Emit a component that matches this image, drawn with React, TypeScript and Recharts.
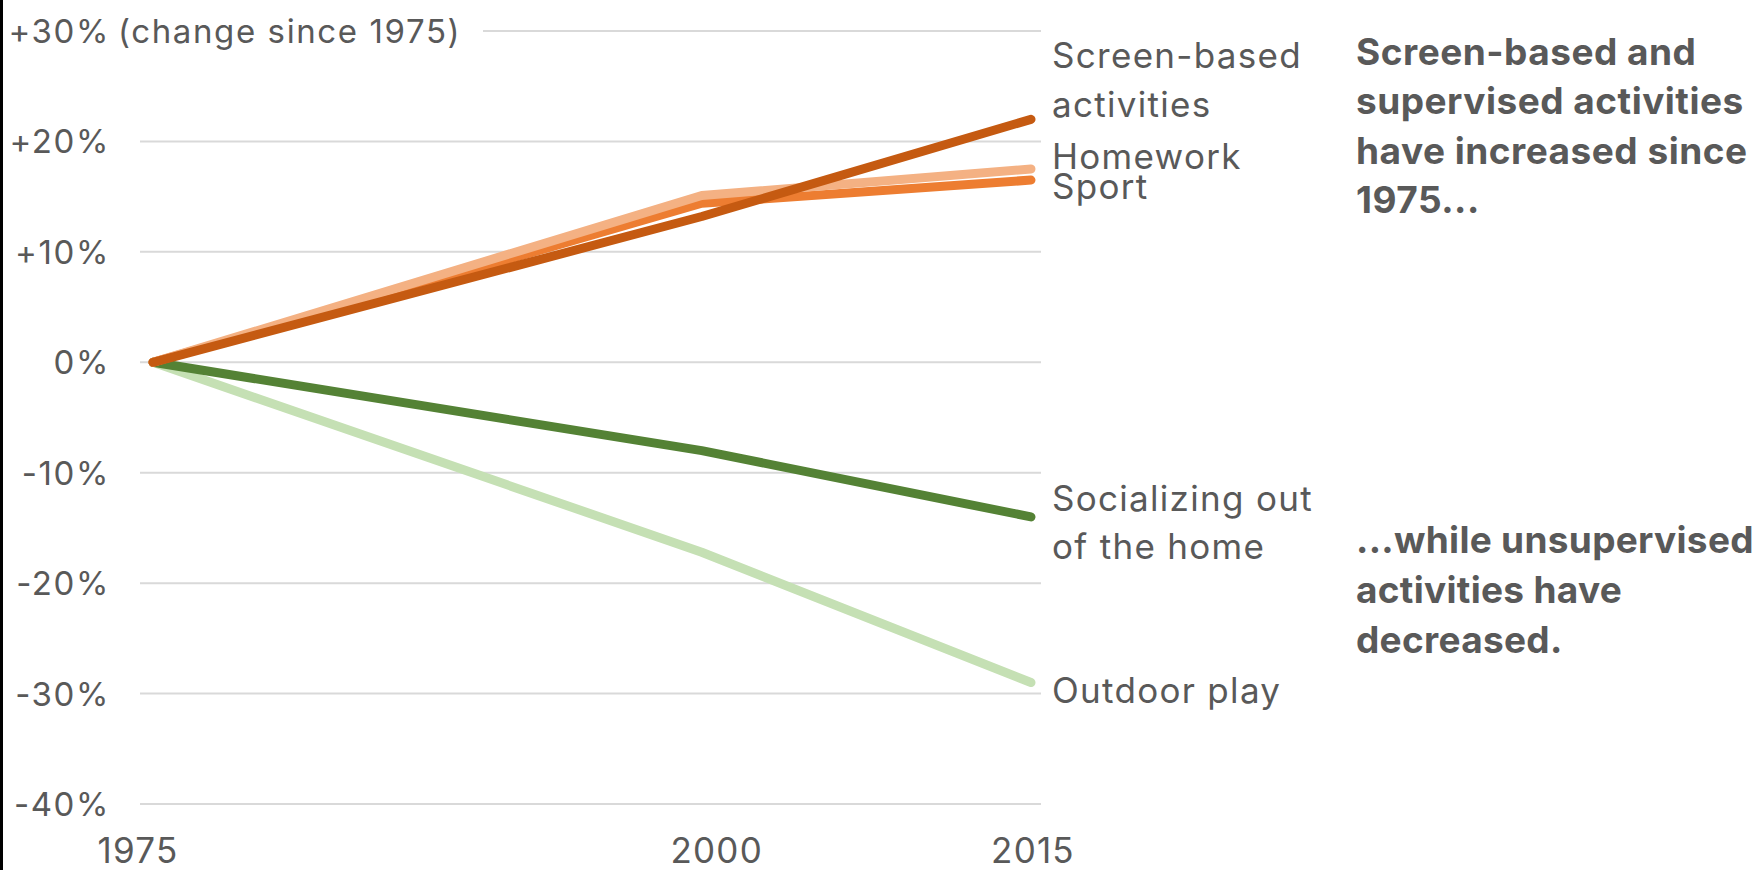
import React from 'react';
import { LineChart, Line, XAxis, YAxis, CartesianGrid } from 'recharts';

const years = [1975, 2000, 2015];
const screenBased = [0, 13.2, 22];
const homework = [0, 15.1, 17.5];
const sport = [0, 14.4, 16.5];
const socializing = [0, -8, -14];
const outdoorPlay = [0, -17.2, -29];
const yTicks = [-40, -30, -20, -10, 0, 10, 20, 30];
const xTickShift = [-15, 15, 2];

const data = years.map((year, i) => ({
  year,
  screenBased: screenBased[i],
  homework: homework[i],
  sport: sport[i],
  socializing: socializing[i],
  outdoorPlay: outdoorPlay[i],
}));

const FONT = 'Inter, "Open Sans", sans-serif';
const GRAY = '#595959';

type SeriesCfg = { key: string; color: string; lines: string[]; dy: number; lh: number };
const series: SeriesCfg[] = [
  { key: 'outdoorPlay', color: '#C5E0B4', lines: ['Outdoor play'], dy: 20, lh: 48 },
  { key: 'socializing', color: '#548235', lines: ['Socializing out', 'of the home'], dy: -6, lh: 48 },
  { key: 'sport', color: '#ED7D31', lines: ['Sport'], dy: 18.5, lh: 48 },
  { key: 'homework', color: '#F4B183', lines: ['Homework'], dy: 0, lh: 48 },
  { key: 'screenBased', color: '#C55A11', lines: ['Screen-based', 'activities'], dy: -51, lh: 49 },
];

const makeLabel = (cfg: SeriesCfg) => (props: any) => {
  const { x, y, index } = props;
  if (index !== years.length - 1) return null;
  return (
    <text x={x + 21} y={y + cfg.dy} fill={GRAY} fontSize={35} fontFamily={FONT} letterSpacing={1.3}>
      {cfg.lines.map((t, i) => (
        <tspan key={i} x={x + 21} dy={i === 0 ? 0 : cfg.lh}>
          {t}
        </tspan>
      ))}
    </text>
  );
};

const YTick = (props: any) => {
  const { x, y, payload } = props;
  const v = payload.value as number;
  const label = v > 0 ? `+${v}%` : `${v}%`;
  const common = { fill: GRAY, fontSize: 33, fontFamily: FONT, letterSpacing: 1.6 };
  if (v === 30) {
    return (
      <g>
        <rect x={x - 2} y={y - 5} width={345} height={10} fill="#fff" />
        <text x={x - 30} y={y + 12} textAnchor="end" {...common}>
          {label}
        </text>
        <text x={x - 22} y={y + 12} textAnchor="start" {...common}>
          (change since 1975)
        </text>
      </g>
    );
  }
  return (
    <text x={x - 30} y={y + 12} textAnchor="end" {...common}>
      {label}
    </text>
  );
};

const XTick = (props: any) => {
  const { x, y, payload, index } = props;
  return (
    <text x={x + xTickShift[index]} y={y + 59} textAnchor="middle" fill={GRAY} fontSize={35} fontFamily={FONT} letterSpacing={1.2}>
      {payload.value}
    </text>
  );
};

const notesTop = ['Screen-based and', 'supervised activities', 'have increased since', '1975...'];
const notesBottom = ['...while unsupervised', 'activities have', 'decreased.'];

export default function App() {
  return (
    <div style={{ position: 'absolute', left: 0, top: 0, width: 1762, height: 870, background: '#fff', overflow: 'hidden' }}>
      <div style={{ position: 'absolute', left: 0, top: 0, width: 3, height: 870, background: '#000' }} />
      <LineChart
        width={1762}
        height={870}
        data={data}
        margin={{ top: 31, right: 721, bottom: 6, left: 0 }}
      >
        <CartesianGrid vertical={false} stroke="#D9D9D9" strokeWidth={2} />
        <XAxis
          dataKey="year"
          type="number"
          domain={[1974.408, 2015.456]}
          ticks={years}
          allowDataOverflow
          axisLine={false}
          tickLine={false}
          tickSize={0}
          tickMargin={0}
          height={60}
          tick={<XTick />}
          interval={0}
        />
        <YAxis
          type="number"
          domain={[-40, 30]}
          ticks={yTicks}
          allowDataOverflow
          width={140}
          axisLine={false}
          tickLine={false}
          tickSize={0}
          tickMargin={0}
          tick={<YTick />}
          interval={0}
        />
        {series.map((s) => (
          <Line
            key={s.key}
            dataKey={s.key}
            stroke={s.color}
            strokeWidth={9}
            strokeLinecap="round"
            strokeLinejoin="round"
            dot={false}
            activeDot={false}
            isAnimationActive={false}
            label={makeLabel(s)}
          />
        ))}
      </LineChart>
      <svg width={1762} height={870} style={{ position: 'absolute', left: 0, top: 0, pointerEvents: 'none' }}>
        <text x={1356} y={65} fill={GRAY} fontSize={37} fontWeight={700} fontFamily={FONT} letterSpacing={0.5}>
          {notesTop.map((t, i) => (
            <tspan key={i} x={1356} dy={i === 0 ? 0 : 49.3}>
              {t}
            </tspan>
          ))}
        </text>
        <text x={1356} y={553} fill={GRAY} fontSize={37} fontWeight={700} fontFamily={FONT} letterSpacing={0.3}>
          {notesBottom.map((t, i) => (
            <tspan key={i} x={1356} dy={i === 0 ? 0 : 50}>
              {t}
            </tspan>
          ))}
        </text>
      </svg>
    </div>
  );
}
